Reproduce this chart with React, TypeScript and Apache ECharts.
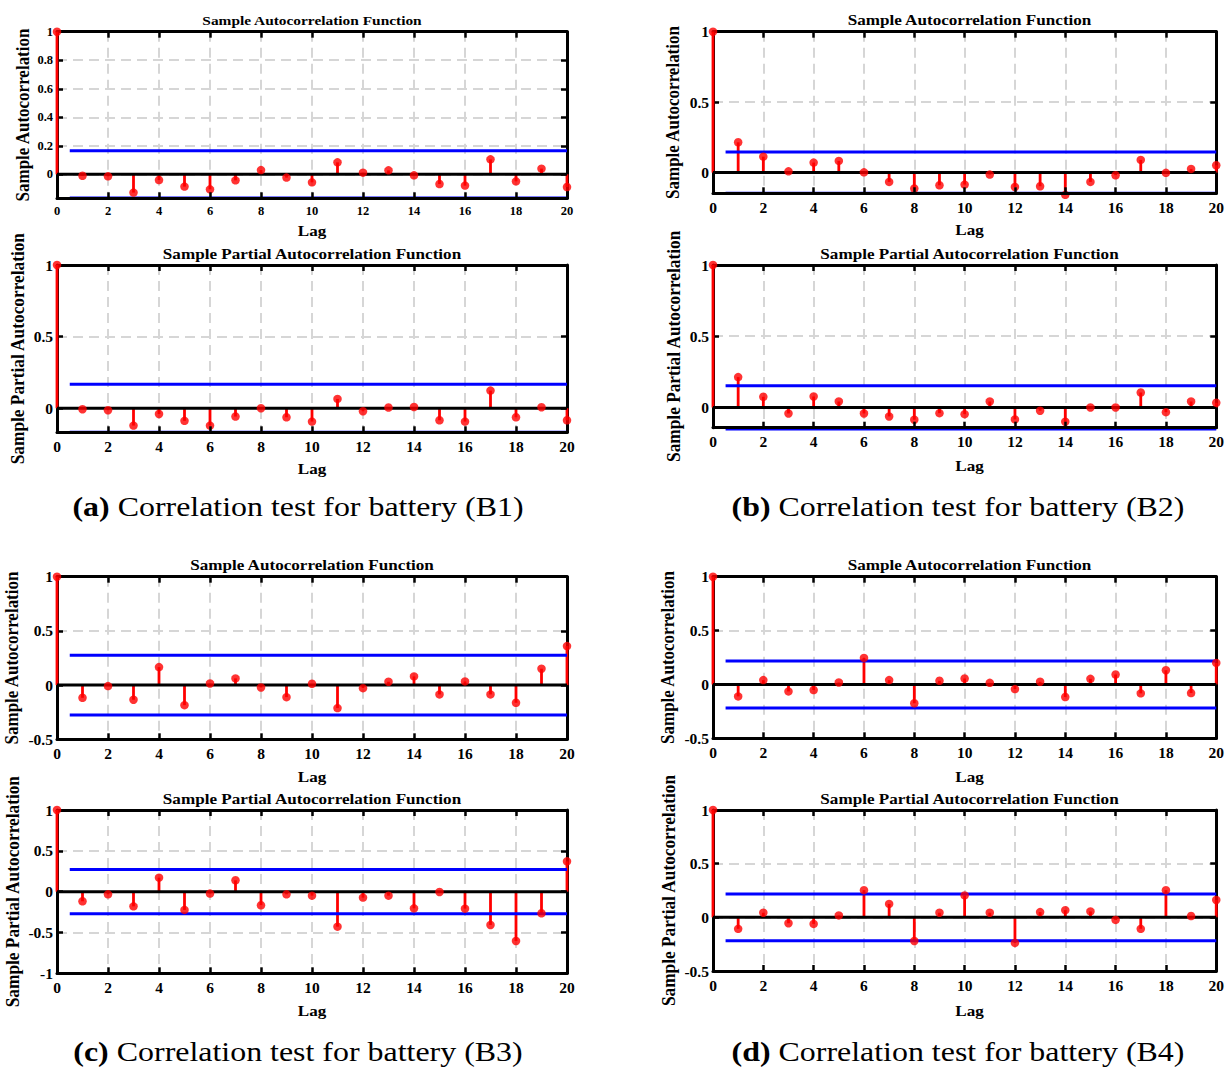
import React, { useEffect, useRef } from 'react';
import * as echarts from 'echarts';

const FONT = "'Liberation Serif', 'Times New Roman', serif";

// ---------- data ----------
const lags = [0, 1, 2, 3, 4, 5, 6, 7, 8, 9, 10, 11, 12, 13, 14, 15, 16, 17, 18, 19, 20];
const xTicks = [0, 2, 4, 6, 8, 10, 12, 14, 16, 18, 20];

const acfB1 = [1, -0.01, -0.014, -0.128, -0.04, -0.086, -0.105, -0.042, 0.03, -0.023, -0.056, 0.084, 0.012, 0.028, -0.007, -0.068, -0.079, 0.105, -0.049, 0.04, -0.089];
const pacfB1 = [1, -0.007, -0.014, -0.121, -0.04, -0.088, -0.121, -0.058, 0.0, -0.063, -0.093, 0.065, -0.021, 0.005, 0.009, -0.084, -0.093, 0.123, -0.063, 0.007, -0.084];
const acfB2 = [1, 0.215, 0.113, 0.009, 0.071, 0.083, 0.002, -0.066, -0.113, -0.09, -0.085, -0.014, -0.102, -0.097, -0.158, -0.066, -0.019, 0.09, -0.002, 0.026, 0.052];
const pacfB2 = [1, 0.213, 0.075, -0.042, 0.077, 0.042, -0.042, -0.063, -0.086, -0.04, -0.047, 0.042, -0.084, -0.023, -0.1, 0.0, 0.0, 0.105, -0.033, 0.042, 0.033];
const acfB3 = [1, -0.117, -0.009, -0.135, 0.166, -0.185, 0.015, 0.062, -0.022, -0.111, 0.012, -0.212, -0.028, 0.031, 0.08, -0.086, 0.034, -0.086, -0.163, 0.151, 0.36];
const pacfB3 = [1, -0.118, -0.033, -0.18, 0.171, -0.224, -0.024, 0.139, -0.167, -0.033, -0.049, -0.429, -0.073, -0.049, -0.204, -0.004, -0.208, -0.408, -0.604, -0.265, 0.371];
const acfB4 = [1, -0.111, 0.04, -0.065, -0.052, 0.018, 0.246, 0.04, -0.175, 0.034, 0.055, 0.015, -0.043, 0.025, -0.117, 0.052, 0.092, -0.083, 0.132, -0.08, 0.2];
const pacfB4 = [1, -0.107, 0.043, -0.055, -0.061, 0.018, 0.253, 0.125, -0.22, 0.043, 0.204, 0.043, -0.238, 0.049, 0.067, 0.055, -0.024, -0.107, 0.253, 0.012, 0.162];

// confidence bounds (±)
const bounds = [0.166, 0.167, 0.147, 0.152, 0.275, 0.27, 0.218, 0.218];
// y-axis ranges and tick steps
const yMins = [-0.168, -0.168, -0.147, -0.142, -0.5, -1, -0.5, -0.5];
const yMaxs = [1, 1, 1, 1, 1, 1, 1, 1];
const ySteps = [0.2, 0.5, 0.5, 0.5, 0.5, 0.5, 0.5, 0.5];

const ACF_TITLE = 'Sample Autocorrelation Function';
const PACF_TITLE = 'Sample Partial Autocorrelation Function';
const ACF_YNAME = 'Sample Autocorrelation';
const PACF_YNAME = 'Sample Partial Autocorrelation';
const X_NAME = 'Lag';

const captions = [
  { tag: '(a)', text: ' Correlation test for battery (B1)' },
  { tag: '(b)', text: ' Correlation test for battery (B2)' },
  { tag: '(c)', text: ' Correlation test for battery (B3)' },
  { tag: '(d)', text: ' Correlation test for battery (B4)' },
];

const seriesValues = [acfB1, pacfB1, acfB2, pacfB2, acfB3, pacfB3, acfB4, pacfB4];
const titles = [ACF_TITLE, PACF_TITLE, ACF_TITLE, PACF_TITLE, ACF_TITLE, PACF_TITLE, ACF_TITLE, PACF_TITLE];
const yNames = [ACF_YNAME, PACF_YNAME, ACF_YNAME, PACF_YNAME, ACF_YNAME, PACF_YNAME, ACF_YNAME, PACF_YNAME];

// ---------- layout (pixels) ----------
const layout = [
  { left: 57, width: 510, top: 31.7, bottom: 198.3, titleY: 20, lagY: 231, yNameX: 23, titleSize: 13.5, tickSize: 12.5, yNameSize: 17 },
  { left: 57, width: 510, top: 265, bottom: 432.3, titleY: 254, lagY: 469, yNameX: 17, titleSize: 15, tickSize: 15.5, yNameSize: 17.3 },
  { left: 713, width: 513, top: 31.7, bottom: 193.3, titleY: 20, lagY: 230, yNameX: 673, titleSize: 15, tickSize: 15.5, yNameSize: 17 },
  { left: 713, width: 513, top: 265, bottom: 427.7, titleY: 254, lagY: 466, yNameX: 673, titleSize: 15, tickSize: 15.5, yNameSize: 17.3 },
  { left: 57, width: 510, top: 576.7, bottom: 739.3, titleY: 565, lagY: 777, yNameX: 12, titleSize: 15, tickSize: 15.5, yNameSize: 17 },
  { left: 57, width: 510, top: 810, bottom: 973.3, titleY: 799, lagY: 1011, yNameX: 12, titleSize: 15, tickSize: 15.5, yNameSize: 17.3 },
  { left: 713, width: 513, top: 576.7, bottom: 738.3, titleY: 565, lagY: 777, yNameX: 668, titleSize: 15, tickSize: 15.5, yNameSize: 17 },
  { left: 713, width: 513, top: 810, bottom: 971, titleY: 799, lagY: 1011, yNameX: 668, titleSize: 15, tickSize: 15.5, yNameSize: 17.3 },
];
const captionPos = [
  { x: 298, y: 506 },
  { x: 958, y: 506 },
  { x: 298, y: 1051 },
  { x: 958, y: 1051 },
];
const STRETCH = 1.14;

const AXIS_W = 3;
const TICK = { inside: true, length: 6, lineStyle: { color: '#000', width: 2.5 } };
const GRID_LINE = { show: true, lineStyle: { color: '#d6d6d6', width: 2, type: [10, 6] } };

function buildOption() {
  const grid: any[] = [];
  const xAxis: any[] = [];
  const yAxis: any[] = [];
  const series: any[] = [];
  const graphic: any[] = [];

  layout.forEach((L, i) => {
    const step = ySteps[i];
    const b = bounds[i];
    const vals = seriesValues[i];
    grid.push({ left: L.left, top: L.top, width: L.width, height: L.bottom - L.top, containLabel: false });

    const xLabelFmt = (v: number) => (xTicks.indexOf(Math.round(v)) >= 0 ? String(Math.round(v)) : '');
    // bottom x axis (draws over the lower bound line)
    xAxis.push({
      type: 'value', gridIndex: i, position: 'bottom', min: 0, max: 20, interval: 2, z: 5,
      axisLine: { show: true, onZero: false, lineStyle: { color: '#000', width: AXIS_W } },
      axisTick: TICK,
      axisLabel: { show: true, margin: 6, color: '#000', fontFamily: FONT, fontWeight: 'bold', fontSize: L.tickSize, formatter: xLabelFmt },
      splitLine: { show: false },
    });
    // top x axis (vertical dashed grid)
    xAxis.push({
      type: 'value', gridIndex: i, position: 'top', min: 0, max: 20, interval: 2,
      axisLine: { show: true, onZero: false, lineStyle: { color: '#000', width: AXIS_W } },
      axisTick: TICK,
      axisLabel: { show: false },
      splitLine: GRID_LINE,
    });
    const yFmt = (v: number) => {
      const r = v / step;
      if (Math.abs(r - Math.round(r)) > 1e-6) return '';
      return String(Math.round(v * 1000) / 1000);
    };
    yAxis.push({
      type: 'value', gridIndex: i, position: 'left', min: yMins[i], max: yMaxs[i], minInterval: step, maxInterval: step, splitNumber: 4,
      axisLine: { show: true, onZero: false, lineStyle: { color: '#000', width: AXIS_W } },
      axisTick: TICK,
      axisLabel: { show: true, margin: 4, color: '#000', fontFamily: FONT, fontWeight: 'bold', fontSize: L.tickSize, formatter: yFmt },
      splitLine: GRID_LINE,
    });
    yAxis.push({
      type: 'value', gridIndex: i, position: 'right', min: yMins[i], max: yMaxs[i], minInterval: step, maxInterval: step, splitNumber: 4,
      axisLine: { show: true, onZero: false, lineStyle: { color: '#000', width: AXIS_W } },
      axisTick: TICK,
      axisLabel: { show: false },
      splitLine: { show: false },
    });

    const xi = 2 * i;
    const yi = 2 * i;
    const pts = lags.map((l, k) => [l, vals[k]]);
    series.push({
      type: 'bar', xAxisIndex: xi, yAxisIndex: yi, data: pts, barWidth: 2.8, clip: false, z: 2,
      itemStyle: { color: '#ff0000' }, silent: true,
    });
    series.push({
      type: 'line', xAxisIndex: xi, yAxisIndex: yi, data: [[0, 0], [20, 0]], symbol: 'none', z: 3,
      lineStyle: { color: '#000', width: 3 }, silent: true,
    });
    series.push({
      type: 'line', xAxisIndex: xi, yAxisIndex: yi, data: [[0.5, b], [20, b]], symbol: 'none', z: 3, clip: false,
      lineStyle: { color: '#0000ff', width: 3 }, silent: true,
    });
    series.push({
      type: 'line', xAxisIndex: xi, yAxisIndex: yi, data: [[0.5, -b], [20, -b]], symbol: 'none', z: 3, clip: false,
      lineStyle: { color: '#0000ff', width: 3 }, silent: true,
    });
    series.push({
      type: 'scatter', xAxisIndex: xi, yAxisIndex: yi, data: pts, symbol: 'circle', symbolSize: 8.5, clip: false, z: 4,
      itemStyle: { color: '#ff0000' }, silent: true,
    });

    const cx = L.left + L.width / 2;
    graphic.push({
      type: 'text', x: cx, y: L.titleY, z: 10, scaleX: STRETCH,
      style: { text: titles[i], align: 'center', verticalAlign: 'middle', fontFamily: FONT, fontWeight: 'bold', fontSize: L.titleSize, fill: '#000' },
    });
    graphic.push({
      type: 'text', x: cx, y: L.lagY, z: 10, scaleX: STRETCH,
      style: { text: X_NAME, align: 'center', verticalAlign: 'middle', fontFamily: FONT, fontWeight: 'bold', fontSize: 15, fill: '#000' },
    });
    graphic.push({
      type: 'text', x: L.yNameX, y: (L.top + L.bottom) / 2, rotation: Math.PI / 2, scaleY: STRETCH, z: 10,
      style: { text: yNames[i], align: 'center', verticalAlign: 'middle', fontFamily: FONT, fontWeight: 'bold', fontSize: L.yNameSize, fill: '#000' },
    });
  });

  captions.forEach((c, i) => {
    graphic.push({
      type: 'text', x: captionPos[i].x, y: captionPos[i].y, z: 10, scaleX: STRETCH,
      style: {
        text: '{b|' + c.tag + '}' + c.text,
        align: 'center', verticalAlign: 'middle', fontFamily: FONT, fontSize: 28, fill: '#000',
        rich: { b: { fontFamily: FONT, fontSize: 28, fontWeight: 'bold', fill: '#000' } },
      },
    });
  });

  return {
    animation: false,
    backgroundColor: '#ffffff',
    grid, xAxis, yAxis, series, graphic,
  };
}

export default function App() {
  const ref = useRef<HTMLDivElement>(null);
  useEffect(() => {
    if (!ref.current) return;
    const chart = echarts.init(ref.current, undefined, { renderer: 'svg' });
    chart.setOption(buildOption() as any);
    return () => chart.dispose();
  }, []);
  return (
    <div
      ref={ref}
      style={{ position: 'absolute', left: 0, top: 0, width: 1227, height: 1068, background: '#fff' }}
    />
  );
}
